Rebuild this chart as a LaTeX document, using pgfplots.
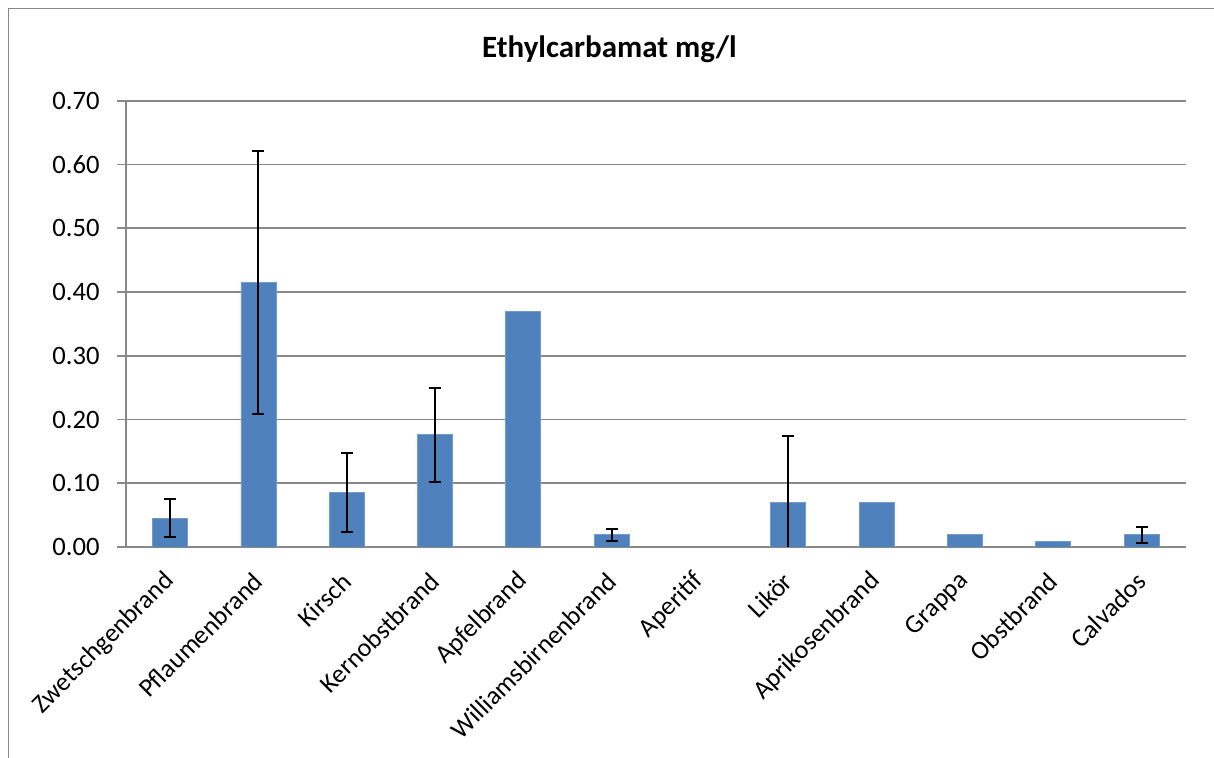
\documentclass[border=0pt]{standalone}
\usepackage{pgfplots}
\pgfplotsset{compat=1.18}
\usepackage{fontspec}
\setmainfont{Carlito}
\definecolor{barblue}{HTML}{4F81BD}
\definecolor{gridgray}{HTML}{888888}

\pgfplotstableread{
x y
0.5 0.045
1.5 0.415
2.5 0.085
3.5 0.176
4.5 0.370
5.5 0.019
7.5 0.070
8.5 0.070
9.5 0.019
10.5 0.009
11.5 0.019
}\bars

\pgfplotstableread{
x y e
0.5 0.045 0.030
1.5 0.415 0.206
2.5 0.085 0.062
3.5 0.176 0.074
5.5 0.019 0.010
7.5 0.070 0.104
11.5 0.019 0.012
}\errs

\begin{document}
\begin{tikzpicture}
\useasboundingbox (0,0) rectangle (607pt,379pt);
\draw[gridgray, line width=0.8pt] (4.25pt,-20pt) rectangle (630pt,374.75pt);
\node[anchor=base, font=\bfseries\fontsize{15.5}{18}\selectfont] at (304.75pt,350pt) {Ethylcarbamat mg/l};
\begin{axis}[
  at={(63pt,105.5pt)}, anchor=south west,
  scale only axis, width=529.85pt, height=223.15pt,
  xmin=0, xmax=12, ymin=0, ymax=0.7,
  axis x line*=bottom, axis y line*=left,
  axis line style={gridgray, line width=0.8pt, -},
  ytick={0,0.1,0.2,0.3,0.4,0.5,0.6,0.7},
  ymajorgrids, grid style={gridgray, line width=0.8pt},
  tick align=outside, major tick length=4.5pt, minor tick length=4.5pt,
  ytick style={gridgray, line width=0.8pt},
  xtick={0.5,1.5,2.5,3.5,4.5,5.5,6.5,7.5,8.5,9.5,10.5,11.5},
  xticklabels={Zwetschgenbrand,Pflaumenbrand,Kirsch,Kernobstbrand,Apfelbrand,Williamsbirnenbrand,Aperitif,Likör,Aprikosenbrand,Grappa,Obstbrand,Calvados},
  xtick style={draw=none},
  minor xtick={0,1,2,3,4,5,6,7,8,9,10,11,12},
  minor x tick style={gridgray, line width=0.8pt},
  xticklabel style={rotate=45, anchor=east, inner sep=0pt, font=\fontsize{13}{15}\selectfont},
  xticklabel shift=10.5pt,
  yticklabel style={inner sep=0pt, font=\fontsize{13.3}{15}\selectfont},
  yticklabel shift=8.5pt,
  /pgf/number format/.cd, fixed, fixed zerofill, precision=2, assume math mode=true,
]
\addplot[ybar, bar width=17.5pt, fill=barblue, draw=barblue!80!white, line width=0.4pt] table[x=x, y=y] {\bars};
\addplot[draw=none, mark=none,
  error bars/.cd, y dir=both, y explicit,
  error bar style={black, line width=1pt},
  error mark options={black, mark size=3pt, line width=1pt, rotate=90}]
  table[x=x, y=y, y error=e] {\errs};
\end{axis}
\end{tikzpicture}
\end{document}
